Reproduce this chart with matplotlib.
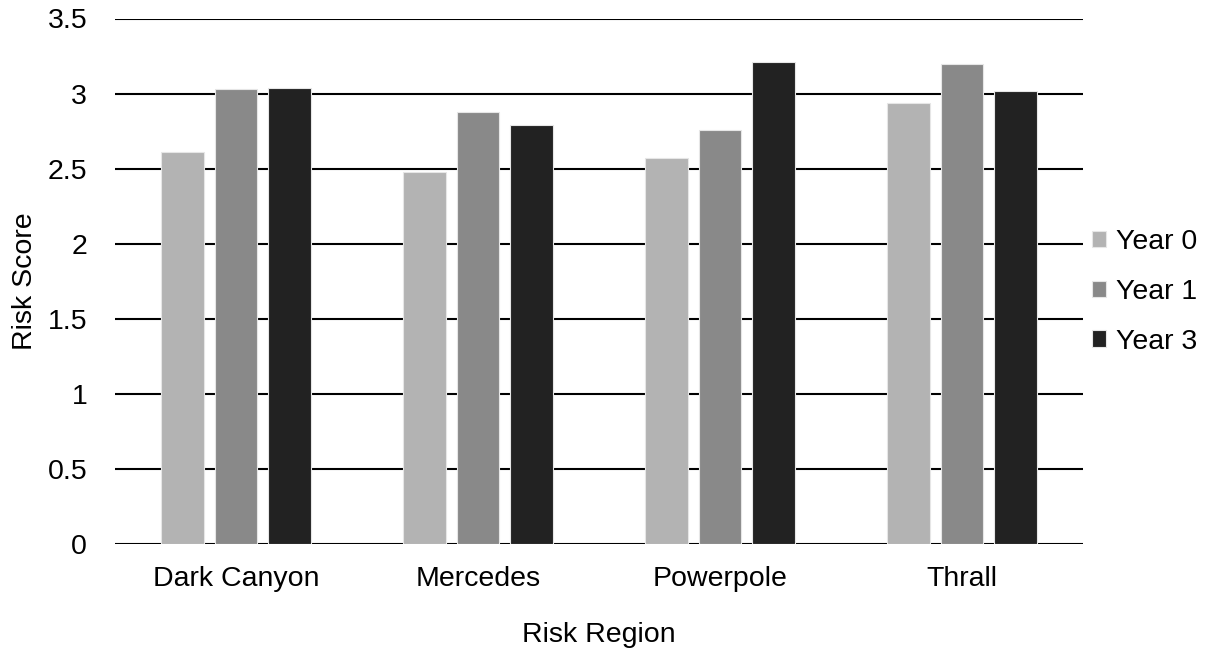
import numpy as np
import matplotlib
matplotlib.use("Agg")
import matplotlib.pyplot as plt

plt.rcParams['font.family'] = ['Liberation Sans', 'DejaVu Sans']

regions = ["Dark Canyon", "Mercedes", "Powerpole", "Thrall"]
series_names = ["Year 0", "Year 1", "Year 3"]
year0 = [2.61, 2.48, 2.57, 2.94]
year1 = [3.03, 2.88, 2.76, 3.20]
year3 = [3.04, 2.79, 3.21, 3.02]
yticks = [0, 0.5, 1, 1.5, 2, 2.5, 3, 3.5]
ytick_labels = ["0", "0.5", "1", "1.5", "2", "2.5", "3", "3.5"]

colors = ["#b3b3b3", "#898989", "#222222"]
fs = 20.5

fig = plt.figure(figsize=(12.2, 6.54), dpi=100)
ax = fig.add_axes([115/1220, 1 - 544/654, (1083 - 115)/1220, (544 - 18.5)/654])

x = np.arange(len(regions))
pitch = 0.222
width = 0.176
for i, (vals, name, c) in enumerate(zip([year0, year1, year3], series_names, colors)):
    ax.bar(x + (i - 1) * pitch, vals, width=width, color=c, label=name,
           edgecolor="#e6e6e6", linewidth=0.8, zorder=3)

ax.set_xlim(-0.5, len(regions) - 0.5)
ax.set_ylim(0, 3.5)
ax.set_yticks(yticks)
ax.set_yticklabels(ytick_labels)
ax.set_xticks(x)
ax.set_xticklabels(regions)
ax.yaxis.grid(True, color="black", linewidth=1.5, zorder=0)
ax.set_axisbelow(True)
for s in ax.spines.values():
    s.set_visible(False)
ax.tick_params(axis="both", length=0, labelsize=fs, colors="black")
ax.tick_params(axis="y", pad=20)
ax.tick_params(axis="x", pad=16)

ax.set_xlabel("Risk Region", fontsize=fs, labelpad=21.5)
ax.set_ylabel("Risk Score", fontsize=fs, labelpad=7)

fig.legend(loc="center left", bbox_to_anchor=(1092/1220, 1 - 292/654),
           frameon=False, fontsize=fs, handlelength=0.5, handleheight=0.5,
           handletextpad=0.35, labelspacing=0.83, borderaxespad=0, borderpad=0)

fig.savefig("out.png", dpi=100)
